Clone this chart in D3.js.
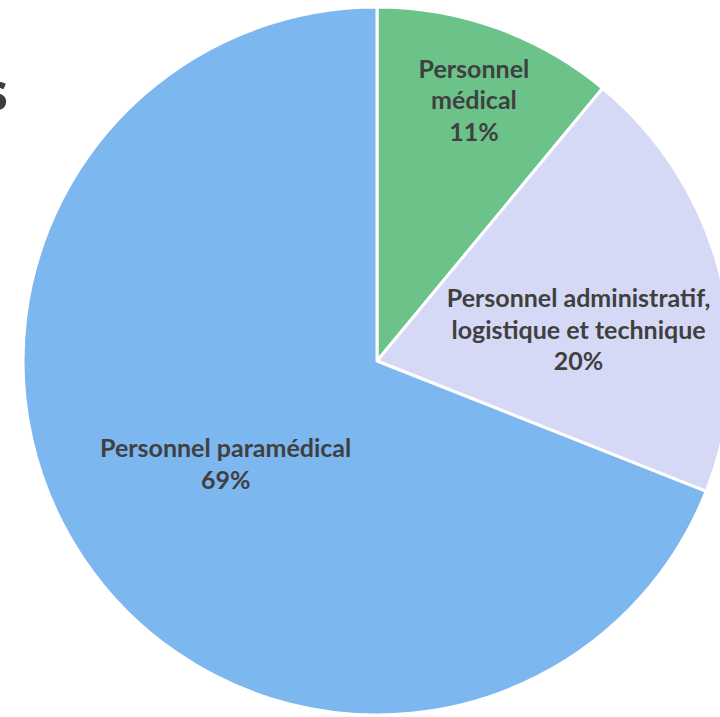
<!DOCTYPE html>
<html>
<head>
<meta charset="utf-8">
<script src="https://cdn.jsdelivr.net/npm/d3@7"></script>
<style>
  body { margin: 0; background: #fff; }
  svg { display: block; }
</style>
</head>
<body>
<svg id="chart" width="720" height="717"></svg>
<script>
// data
const categories = ["Personnel médical", "Personnel administratif, logistique et technique", "Personnel paramédical"];
const values = [11, 20, 69];
const labelLines = [
    ["Personnel", "médical"],
    ["Personnel administratif,", "logistique et technique"],
    ["Personnel paramédical"]
];
const colors = ["#6cc389", "#d5d9f6", "#7db7f0"];

// layout
const cx = 377, cy = 361, radius = 354;
const labelRadius = [278, 204, 183];
const labelShift = [0.6, 5.6, 0];   // small angular tweak in degrees

const svg = d3.select("#chart");

// title, cut off by the left edge as in the original
svg.append("text")
   .attr("x", 8)
   .attr("y", 110)
   .attr("text-anchor", "end")
   .attr("font-family", "Open Sans, sans-serif")
   .attr("font-weight", "bold")
   .attr("font-size", 52)
   .attr("fill", "#3d3d3d")
   .text("Effectifs");

const g = svg.append("g")
             .attr("transform", "translate(" + cx + "," + cy + ")");

const pie = d3.pie().sort(null).value(d => d);
const arcs = pie(values);

const arc = d3.arc().innerRadius(0).outerRadius(radius);

g.selectAll("path")
 .data(arcs)
 .enter()
 .append("path")
 .attr("d", arc)
 .attr("fill", (d, i) => colors[i])
 .attr("stroke", "#ffffff")
 .attr("stroke-width", 3)
 .attr("stroke-linejoin", "round");

// labels
const lineHeight = 31.5;
arcs.forEach((d, i) => {
    const a = (d.startAngle + d.endAngle) / 2 + labelShift[i] * Math.PI / 180;
    const x = Math.sin(a) * labelRadius[i];
    const y = -Math.cos(a) * labelRadius[i];
    const lines = labelLines[i].concat([values[i] + "%"]);
    const top = y - (lines.length - 1) * lineHeight / 2;

    const t = g.append("text")
               .attr("text-anchor", "middle")
               .attr("font-family", "Lato, sans-serif")
               .attr("font-weight", "bold")
               .attr("font-size", 25)
               .attr("fill", "#404040");

    lines.forEach((ln, j) => {
        t.append("tspan")
         .attr("x", x)
         .attr("y", top + j * lineHeight + 9)
         .text(ln);
    });
});
</script>
</body>
</html>
